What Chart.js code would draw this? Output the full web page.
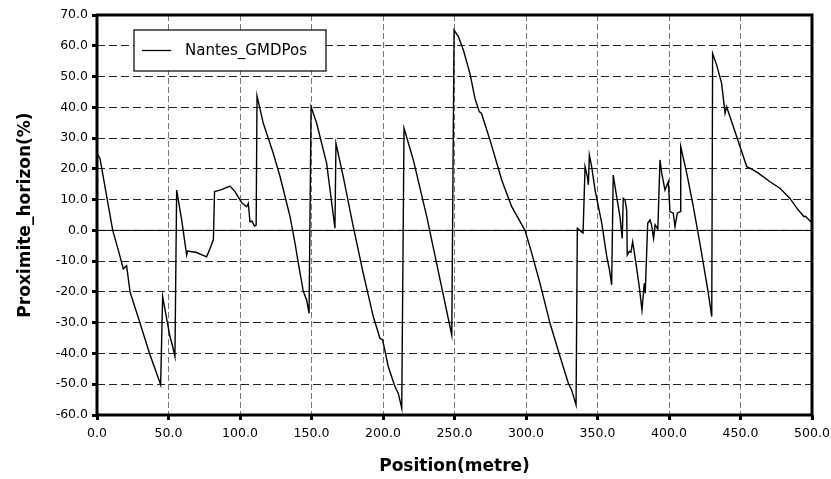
<!DOCTYPE html>
<html><head><meta charset="utf-8">
<script src="https://cdn.jsdelivr.net/npm/chart.js@4.4.0/dist/chart.umd.min.js"></script>
<style>html,body{margin:0;padding:0;background:#fff;}</style>
</head><body>
<canvas id="c" width="831" height="479"></canvas>
<script>
const seriesName = 'Nantes_GMDPos';
const xTitle = 'Position(metre)';
const yTitle = 'Proximite_horizon(%)';
const xTickValues = [0, 50, 100, 150, 200, 250, 300, 350, 400, 450, 500];
const yTickValues = [-60, -50, -40, -30, -20, -10, 0, 10, 20, 30, 40, 50, 60, 70];

const positions = [
  0, 2.1, 6.8, 11, 14.9, 18.4, 20.7, 23.1, 30.1, 37.1,
  41.7, 44.5, 45.9, 51, 52.8, 54.5, 55.7, 59.2, 62.7, 63.4,
  69.7, 76.6, 79, 81.4, 82.2, 86, 88.3, 93, 96.5, 101.2,
  104.7, 105.8, 107, 108.4, 110.1, 111.3, 111.9, 116.3, 123.3, 128,
  135, 138.5, 140.8, 144.3, 146.6, 148.3, 149.7, 153.6, 160.6, 166.4,
  167.1, 172.2, 179.2, 186.2, 193.2, 197.9, 199.7, 203.7, 208.4, 210.7,
  213.1, 214.7, 221.2, 230.6, 237.5, 243.4, 248.1, 249.7, 252.7, 256.2,
  260.8, 264.3, 267.3, 268.9, 274.8, 283, 290, 299.3, 304, 309.8,
  316.8, 323.8, 329.6, 332, 335, 335.9, 338.7, 339.9, 341.3, 342.9,
  343.6, 344.3, 345.9, 348.3, 353, 356.5, 358.4, 359.9, 361, 363.4,
  365.7, 367.3, 368, 369.2, 370.4, 370.8, 372.2, 373.4, 374.6, 376.9,
  379.2, 381.1, 382.7, 383.4, 385.1, 386.7, 387.8, 389.2, 390.3, 392.2,
  393.7, 394.9, 397.2, 399.5, 400.7, 403, 404.2, 405.8, 407.7, 408.2,
  412.4, 417, 421.7, 427.5, 429.9, 430.5, 433.3, 436.8, 439.2, 440.3,
  445, 449.7, 454.4, 457.9, 462.5, 470.6, 477.6, 484.6, 490.4, 492.7,
  494.2, 495.4, 499.1, 500
];
const values = [
  25, 23.4, 11, 0, -6.4, -12.5, -11.5, -20, -30.2, -40.5,
  -46.4, -50.2, -21.5, -34.5, -37.5, -41, 13.1, 3.4, -8, -6.7,
  -7.2, -8.6, -6, -3, 12.6, 13.1, 13.5, 14.4, 12.6, 9,
  7.7, 8.8, 2.8, 3, 1.4, 1.7, 43.7, 34.8, 25, 17.5,
  4.5, -4.2, -10.7, -19.9, -22.6, -27, 40.2, 34.8, 21.8, 0.7,
  28.3, 17.5, 1.2, -14, -28, -35.1, -35.5, -44.3, -50.8, -53,
  -57.8, 33.2, 22.9, 4.5, -10.7, -23.7, -34, 65.1, 63, 58.6,
  51, 42.9, 38.6, 38, 29.4, 16.4, 7.7, 0, -7.4, -17.2,
  -30.2, -41, -49.7, -52, -56.7, 0.7, -0.4, -0.8, 20.7, 17.5,
  14.8, 24.5, 20.7, 13.1, 2.3, -8.5, -12.9, -17.7, 18, 11,
  4.5, -2.6, 10.4, 10, 6.6, -8, -6.8, -7.1, -3.7, -10.7,
  -18.3, -25.9, -17.2, -20.4, 2.3, 3.4, 1.8, -2.6, 1.8, 0.4,
  22.9, 18.6, 13.1, 15.8, 6.1, 5.6, 1.2, 5.6, 6.1, 27.2,
  18.6, 7.7, -4.5, -20.4, -28, 57.5, 53.8, 47.8, 38.1, 40.2,
  33.7, 27.2, 20.7, 19.9, 18.6, 15.8, 13.7, 10.4, 6.6, 5.4,
  4.5, 4.6, 2.8, 3
];

const points = positions.map((x, i) => ({x: x, y: values[i]}));

const framePlugin = {
  id: 'frame',
  beforeDatasetsDraw(chart) {
    const {ctx, chartArea: a, scales} = chart;
    const y0 = scales.y.getPixelForValue(0);
    ctx.save();
    ctx.strokeStyle = '#000';
    ctx.lineWidth = 1;
    ctx.beginPath();
    ctx.moveTo(a.left, y0);
    ctx.lineTo(a.right, y0);
    ctx.stroke();
    ctx.restore();
  },
  afterDatasetsDraw(chart) {
    const {ctx, chartArea: a} = chart;
    ctx.save();
    const lx = a.left + 37, ly = a.top + 15, lw = 192, lh = 41;
    ctx.fillStyle = '#fff';
    ctx.fillRect(lx, ly, lw, lh);
    ctx.strokeStyle = '#000';
    ctx.lineWidth = 1.2;
    ctx.strokeRect(lx, ly, lw, lh);
    ctx.beginPath();
    ctx.lineWidth = 1.3;
    ctx.moveTo(lx + 8, ly + lh / 2);
    ctx.lineTo(lx + 37, ly + lh / 2);
    ctx.stroke();
    ctx.fillStyle = '#000';
    ctx.font = '15px "DejaVu Sans"';
    ctx.textBaseline = 'middle';
    ctx.textAlign = 'left';
    ctx.fillText(seriesName, lx + 51, ly + lh / 2 + 1);
    ctx.lineWidth = 3;
    ctx.strokeStyle = '#000';
    ctx.strokeRect(a.left, a.top, a.right - a.left, a.bottom - a.top);
    ctx.restore();
  }
};

new Chart(document.getElementById('c'), {
  type: 'line',
  data: {
    datasets: [{
      label: seriesName,
      data: points,
      borderColor: '#000',
      borderWidth: 1.4,
      pointRadius: 0,
      tension: 0,
      fill: false
    }]
  },
  options: {
    responsive: false,
    animation: false,
    parsing: false,
    layout: {padding: {top: 15, right: 19, left: 0, bottom: 0}},
    plugins: {legend: {display: false}, tooltip: {enabled: false}},
    scales: {
      x: {
        type: 'linear',
        min: 0, max: 500,
        afterBuildTicks(s) { s.ticks = xTickValues.map(v => ({value: v})); },
        afterFit(s) { s.height = 64; s.paddingLeft = 0; s.paddingRight = 0; },
        border: {display: false, dash: [6, 3]},
        grid: {color: '#777', lineWidth: 1, tickLength: 5, tickWidth: 3, tickColor: '#000'},
        ticks: {
          color: '#000', padding: 6, maxRotation: 0, autoSkip: false,
          font: {family: '"DejaVu Sans"', size: 12.5},
          callback: v => Number(v).toFixed(1)
        },
        title: {display: true, text: xTitle, color: '#000', padding: {top: 0, bottom: 2},
          font: {family: '"DejaVu Sans"', size: 17, weight: 'bold'}}
      },
      y: {
        type: 'linear',
        min: -60, max: 70,
        afterBuildTicks(s) { s.ticks = yTickValues.map(v => ({value: v})); },
        afterFit(s) { s.width = 97; s.paddingTop = 0; s.paddingBottom = 0; },
        border: {display: false, dash: [8, 4]},
        grid: {color: '#222', lineWidth: 1, tickLength: 5, tickWidth: 3, tickColor: '#000'},
        ticks: {
          color: '#000', padding: 4, autoSkip: false,
          font: {family: '"DejaVu Sans"', size: 12.5},
          callback: v => Number(v).toFixed(1)
        },
        title: {display: true, text: yTitle, color: '#000', padding: {top: 15, bottom: 0},
          font: {family: '"DejaVu Sans"', size: 17, weight: 'bold'}}
      }
    }
  },
  plugins: [framePlugin]
});
</script>
</body></html>
